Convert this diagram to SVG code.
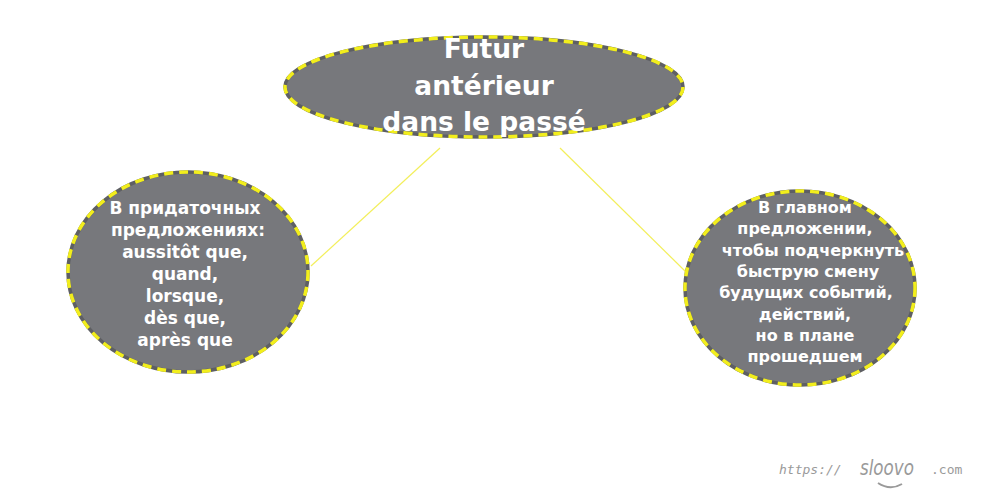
<svg xmlns="http://www.w3.org/2000/svg" width="1000" height="500" viewBox="0 0 1000 500">
<style>
.base{fill:#77787c;stroke:#5e5f63;stroke-width:3.5}
.dash{fill:none;stroke:#f2ee1c;stroke-width:3.5;stroke-dasharray:9 6}
.t{font-family:"DejaVu Sans",Verdana,sans-serif;font-weight:bold;fill:#ffffff;text-anchor:middle}
.conn{stroke:#f3ef5a;stroke-width:1.2;fill:none}
.wm{fill:#9a9a9a}
</style>
<rect width="1000" height="500" fill="#ffffff"/>
<g id="connectors">
<line class="conn" x1="440" y1="148" x2="311" y2="266"/>
<line class="conn" x1="560" y1="148" x2="686" y2="272"/>
</g>
<g id="node-top">
<ellipse class="base" cx="484" cy="87" rx="199" ry="50"/>
<ellipse class="dash" cx="484" cy="87" rx="199" ry="50"/>
<text class="t" font-size="26.5" x="484" y="58">Futur</text>
<text class="t" font-size="26.5" x="484" y="95">antérieur</text>
<text class="t" font-size="26.5" x="484" y="131">dans le passé</text>
</g>
<g id="node-left">
<ellipse class="base" cx="188" cy="272" rx="120" ry="100"/>
<ellipse class="dash" cx="188" cy="272" rx="120" ry="100"/>
<text class="t" font-size="17" x="185" y="214">В придаточных</text>
<text class="t" font-size="17" x="188" y="236">предложениях:</text>
<text class="t" font-size="17" x="185" y="258">aussitôt que,</text>
<text class="t" font-size="17" x="185" y="280">quand,</text>
<text class="t" font-size="17" x="185" y="302">lorsque,</text>
<text class="t" font-size="17" x="185" y="324">dès que,</text>
<text class="t" font-size="17" x="185" y="346">après que</text>
</g>
<g id="node-right">
<ellipse class="base" cx="800" cy="288" rx="115" ry="97"/>
<ellipse class="dash" cx="800" cy="288" rx="115" ry="97"/>
<text class="t" font-size="16" x="805" y="213">В главном</text>
<text class="t" font-size="16" x="805" y="234">предложении,</text>
<text class="t" font-size="16" x="813" y="256">чтобы подчеркнуть</text>
<text class="t" font-size="16" x="808" y="277">быструю смену</text>
<text class="t" font-size="16" x="806" y="298">будущих событий,</text>
<text class="t" font-size="16" x="805" y="320">действий,</text>
<text class="t" font-size="16" x="805" y="341">но в плане</text>
<text class="t" font-size="16" x="805" y="362">прошедшем</text>
</g>
<g id="watermark">
<text class="wm" x="779" y="474" font-family="'DejaVu Sans Mono',monospace" font-style="italic" font-size="13">https://</text>
<text class="wm" x="860" y="475" font-family="'DejaVu Sans',sans-serif" font-style="italic" font-size="22" textLength="54" lengthAdjust="spacingAndGlyphs">sloovo</text>
<text class="wm" x="931" y="474" font-family="'DejaVu Sans Mono',monospace" font-size="13">.com</text>
<path d="M878 483 Q890 491 902 484" fill="none" stroke="#9a9a9a" stroke-width="2"/>
</g>
</svg>
